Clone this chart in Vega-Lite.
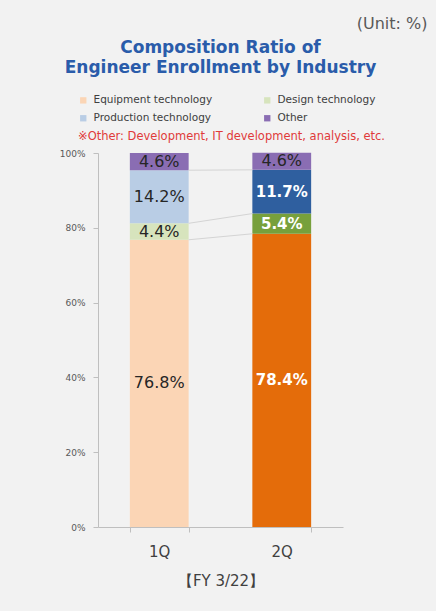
{
  "$schema": "https://vega.github.io/schema/vega-lite/v6.json",
  "width": 245,
  "height": 374,
  "autosize": {"type": "none"},
  "padding": {"left": 98, "top": 153, "right": 93, "bottom": 84},
  "background": "#f2f2f2",
  "config": {"view": {"stroke": null}, "font": "DejaVu Sans"},
  "title": {
    "text": ["Composition Ratio of", "Engineer Enrollment by Industry"],
    "font": "DejaVu Sans",
    "fontSize": 17,
    "fontWeight": "bold",
    "color": "#2a5caa",
    "lineHeight": 20,
    "anchor": "middle",
    "frame": "group",
    "offset": -62
  },
  "data": {
    "values": [
      {"q": "1Q", "cat": "Equipment technology", "value": 76.8, "ord": 1},
      {"q": "1Q", "cat": "Design technology", "value": 4.4, "ord": 2},
      {"q": "1Q", "cat": "Production technology", "value": 14.2, "ord": 3},
      {"q": "1Q", "cat": "Other", "value": 4.6, "ord": 4},
      {"q": "2Q", "cat": "Equipment technology", "value": 78.4, "ord": 1},
      {"q": "2Q", "cat": "Design technology", "value": 5.4, "ord": 2},
      {"q": "2Q", "cat": "Production technology", "value": 11.7, "ord": 3},
      {"q": "2Q", "cat": "Other", "value": 4.6, "ord": 4}
    ]
  },
  "transform": [
    {"stack": "value", "groupby": ["q"], "sort": [{"field": "ord", "order": "ascending"}], "as": ["y0", "y1"]},
    {"calculate": "(datum.y0 + datum.y1) / 2", "as": "mid"},
    {"calculate": "format(datum.value, '.1f') + '%'", "as": "label"}
  ],
  "layer": [
    {
      "transform": [{"filter": "datum.q === '1Q'"}],
      "mark": {"type": "bar"},
      "encoding": {
        "x": {
          "field": "q",
          "type": "nominal",
          "scale": {"domain": ["1Q", "2Q"], "paddingInner": 0.52, "paddingOuter": 0.26},
          "axis": {
            "title": "【FY 3/22】",
            "labelAngle": 0,
            "labelFontSize": 15,
            "labelColor": "#404040",
            "labelPadding": 12,
            "tickSize": 5,
            "tickColor": "#bfbfbf",
            "domainColor": "#bfbfbf",
            "tickBand": "extent",
            "titleFontSize": 15,
            "titleFontWeight": "normal",
            "titleColor": "#404040",
            "titlePadding": 14
          }
        },
        "y": {
          "field": "y0",
          "type": "quantitative",
          "scale": {"domain": [0, 100], "nice": false},
          "axis": {
            "values": [0, 20, 40, 60, 80, 100],
            "labelExpr": "datum.value + '%'",
            "labelFontSize": 9,
            "labelColor": "#595959",
            "labelPadding": 8,
            "tickSize": 5,
            "tickColor": "#bfbfbf",
            "domainColor": "#bfbfbf",
            "grid": false,
            "title": "(Unit: %)",
            "titleAngle": 0,
            "titleAlign": "right",
            "titleBaseline": "alphabetic",
            "titleX": 329,
            "titleY": -125,
            "titleFontSize": 16,
            "titleFontWeight": "normal",
            "titleColor": "#595959"
          }
        },
        "y2": {"field": "y1"},
        "color": {
          "field": "cat",
          "type": "nominal",
          "scale": {
            "domain": ["Equipment technology", "Design technology", "Production technology", "Other"],
            "range": ["#fbd5b5", "#d7e4bd", "#b9cde5", "#8a6db3"]
          },
          "legend": {
            "orient": "none",
            "legendX": -20,
            "legendY": -58,
            "columns": 2,
            "direction": "horizontal",
            "symbolType": "square",
            "symbolSize": 40,
            "symbolStrokeWidth": 0,
            "labelFontSize": 10.5,
            "labelColor": "#404040",
            "labelOffset": 5,
            "labelLimit": 200,
            "rowPadding": 7,
            "columnPadding": 49,
            "title": "\u00a0\u00a0\u00a0※Other: Development, IT development, analysis, etc.",
            "titleOrient": "bottom",
            "titleColor": "#e03a3a",
            "titleFontSize": 11.5,
            "titleFontWeight": "normal",
            "titleLimit": 420,
            "titlePadding": 7
          }
        }
      }
    },
    {
      "transform": [{"filter": "datum.q === '2Q'"}],
      "mark": {"type": "bar"},
      "encoding": {
        "x": {"field": "q", "type": "nominal"},
        "y": {"field": "y0", "type": "quantitative"},
        "y2": {"field": "y1"},
        "fill": {
          "field": "cat",
          "type": "nominal",
          "scale": {
            "domain": ["Equipment technology", "Design technology", "Production technology", "Other"],
            "range": ["#e46c0a", "#77a03c", "#2f5f9f", "#8a6db3"]
          },
          "legend": null
        }
      }
    },
    {
      "transform": [
        {"filter": "datum.cat !== 'Other'"},
        {"pivot": "q", "value": "y1", "groupby": ["cat"]}
      ],
      "mark": {"type": "rule", "color": "#d4d4d4", "strokeWidth": 1},
      "encoding": {
        "x": {"datum": "1Q", "type": "nominal", "bandPosition": 1},
        "x2": {"datum": "2Q", "bandPosition": 0},
        "y": {"field": "1Q", "type": "quantitative"},
        "y2": {"field": "2Q"}
      }
    },
    {
      "transform": [{"filter": "datum.q === '1Q' || datum.cat === 'Other'"}],
      "mark": {"type": "text", "fontSize": 16, "color": "#262626"},
      "encoding": {
        "x": {"field": "q", "type": "nominal"},
        "y": {"field": "mid", "type": "quantitative"},
        "text": {"field": "label"}
      }
    },
    {
      "transform": [{"filter": "datum.q === '2Q' && datum.cat !== 'Other'"}],
      "mark": {"type": "text", "fontSize": 15, "fontWeight": "bold", "color": "#ffffff"},
      "encoding": {
        "x": {"field": "q", "type": "nominal"},
        "y": {"field": "mid", "type": "quantitative"},
        "text": {"field": "label"}
      }
    }
  ]
}
